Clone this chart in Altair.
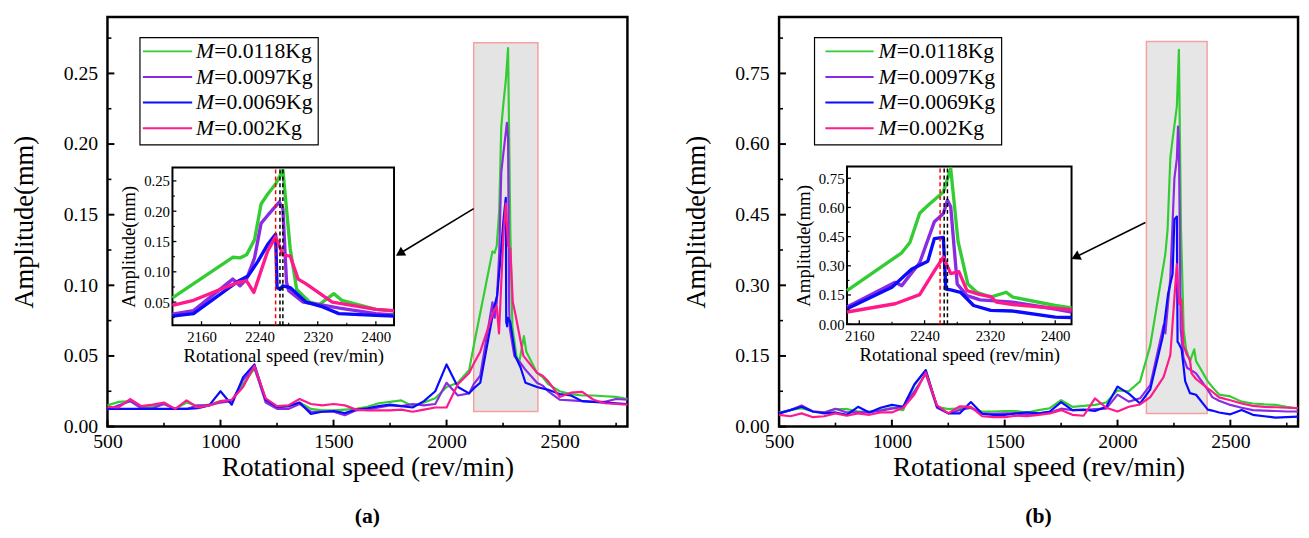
import altair as alt
import pandas as pd

FONT = "Liberation Serif"

SERIES = ["M=0.0118Kg", "M=0.0097Kg", "M=0.0069Kg", "M=0.002Kg"]
MASS_TEXT = ["=0.0118Kg", "=0.0097Kg", "=0.0069Kg", "=0.002Kg"]
COLORS = ["#33cc33", "#8a2be2", "#0a0aff", "#ff1a8c"]

LOW_X = [500, 550, 600, 650, 700, 750, 800, 850, 900, 950, 1000, 1050, 1100, 1150, 1200,
         1250, 1300, 1350, 1400, 1450, 1500, 1550, 1600, 1650, 1700, 1750, 1800, 1850,
         1900, 1950, 2000, 2050, 2100]
TAIL_X = [2450, 2500, 2550, 2600, 2650, 2700, 2750, 2800]

# ---------------- panel (a) ----------------
A_GREEN_LOW = [.015, .0175, .018, .014, .0145, .016, .0125, .017, .0145, .0155, .018, .0185, .030, .041,
               .019, .0135, .0145, .017, .0125, .0115, .0115, .012, .0125, .014, .0165, .0175, .0185,
               .0145, .017, .020, .028, .031, .040]
A_GREEN_PK_X = [2120, 2203, 2213, 2222, 2233, 2242, 2251, 2262, 2272, 2282, 2291, 2309, 2322, 2342, 2353, 2400, 2425]
A_GREEN_PK_Y = [.057, .124, .123, .128, .153, .212, .228, .245, .268, .139, .071, .050, .046, .064, .053, .038, .035]
A_GREEN_TAIL = [.030, .025, .023, .022, .022, .0215, .021, .0195]

A_PURPLE_LOW = [.012, .015, .018, .013, .013, .016, .0125, .0125, .015, .015, .017, .018, .033, .042,
                .017, .0125, .0125, .016, .0105, .0105, .0105, .008, .0115, .012, .0135, .015, .0145,
                .016, .015, .016, .031, .022, .0235]
A_PURPLE_PK_X = [2120, 2149, 2203, 2213, 2222, 2233, 2242, 2251, 2267, 2272, 2277, 2280, 2300, 2327, 2350, 2400, 2425]
A_PURPLE_PK_Y = [.030, .036, .088, .077, .088, .123, .180, .193, .215, .204, .083, .069, .050, .045, .040, .031, .029]
A_PURPLE_TAIL = [.025, .019, .0185, .018, .0175, .0175, .0195, .019]

A_BLUE_LOW = [.0125, .0125, .0125, .0125, .0125, .0125, .0125, .0125, .013, .015, .025, .0155, .035, .044,
              .019, .014, .0145, .017, .009, .0105, .011, .0095, .012, .013, .0145, .0155, .0145,
              .0135, .018, .025, .044, .028, .0235]
A_BLUE_PK_X = [2120, 2149, 2211, 2224, 2238, 2251, 2262, 2264, 2268, 2272, 2282, 2304, 2327, 2349, 2400, 2425]
A_BLUE_PK_Y = [.027, .031, .085, .093, .118, .145, .162, .074, .071, .077, .074, .050, .042, .031, .028, .027]
A_BLUE_TAIL = [.026, .023, .022, .018, .0175, .017, .0165, .016]

A_PINK_LOW = [.014, .0135, .0195, .0145, .0155, .017, .0125, .0185, .0135, .015, .018, .019, .028, .043,
              .020, .0145, .015, .0195, .016, .015, .016, .015, .012, .0115, .0115, .0115, .012,
              .0105, .012, .0135, .0135, .030, .038]
A_PINK_PK_X = [2120, 2149, 2211, 2222, 2232, 2251, 2262, 2272, 2282, 2293, 2304, 2340, 2400, 2425]
A_PINK_PK_Y = [.0445, .053, .083, .085, .066, .134, .158, .128, .126, .088, .080, .050, .038, .036]
A_PINK_TAIL = [.032, .021, .024, .0246, .019, .0165, .016, .0155]

# ---------------- panel (b) ----------------
B_GREEN_LOW = [.030, .035, .039, .032, .030, .037, .037, .032, .032, .035, .040, .035, .088, .120,
               .042, .037, .039, .039, .032, .032, .033, .033, .030, .035, .039, .056, .042, .044,
               .046, .051, .077, .075, .096]
B_GREEN_PK_X = [2145, 2212, 2222, 2234, 2244, 2263, 2272, 2281, 2293, 2304, 2321, 2340, 2348, 2400, 2420]
B_GREEN_PK_Y = [.172, .367, .42, .57, .61, .68, .80, .426, .206, .164, .139, .164, .139, .096, .084]
B_GREEN_TAIL = [.068, .064, .053, .049, .047, .046, .042, .039]

B_PURPLE_LOW = [.028, .035, .045, .032, .030, .038, .030, .030, .030, .034, .038, .042, .075, .112,
                .040, .028, .035, .040, .028, .027, .028, .028, .025, .028, .030, .038, .035, .035,
                .037, .038, .068, .053, .060]
B_PURPLE_PK_X = [2145, 2204, 2212, 2234, 2252, 2263, 2268, 2272, 2280, 2292, 2308, 2348, 2400, 2420]
B_PURPLE_PK_Y = [.088, .215, .198, .316, .527, .569, .637, .603, .206, .147, .125, .113, .078, .0625]
B_PURPLE_TAIL = [.055, .046, .040, .035, .034, .033, .032, .032]

B_BLUE_LOW = [.028, .035, .042, .032, .028, .030, .025, .042, .030, .040, .046, .042, .090, .120,
              .042, .028, .028, .052, .027, .025, .025, .028, .030, .028, .032, .052, .035, .036,
              .033, .042, .085, .070, .049]
B_BLUE_PK_X = [2145, 2200, 2224, 2244, 2252, 2263, 2266, 2272, 2284, 2300, 2321, 2348, 2400, 2420]
B_BLUE_PK_Y = [.079, .19, .282, .324, .44, .446, .18, .176, .164, .096, .071, .0675, .036, .034]
B_BLUE_TAIL = [.030, .026, .035, .025, .022, .019, .020, .021]

B_PINK_LOW = [.025, .022, .028, .020, .022, .028, .023, .028, .025, .030, .030, .040, .068, .115,
              .045, .028, .043, .042, .022, .020, .020, .023, .022, .025, .028, .035, .025, .023,
              .060, .040, .032, .042, .047]
B_PINK_PK_X = [2145, 2204, 2234, 2252, 2263, 2272, 2282, 2292, 2308, 2321, 2328, 2348, 2400, 2420]
B_PINK_PK_Y = [.0625, .105, .152, .274, .345, .26, .27, .172, .152, .142, .113, .101, .081, .074]
B_PINK_TAIL = [.062, .056, .049, .044, .042, .041, .040, .039]

# axes ticks
X_LABELS = [500, 1000, 1500, 2000, 2500]
X_MINOR = [750, 1250, 1750, 2250, 2750]
A_Y_LABELS = [0.00, 0.05, 0.10, 0.15, 0.20, 0.25]
A_Y_MINOR = [0.025, 0.075, 0.125, 0.175, 0.225, 0.275]
B_Y_LABELS = [0.00, 0.15, 0.30, 0.45, 0.60, 0.75]
B_Y_MINOR = [0.075, 0.225, 0.375, 0.525, 0.675, 0.825]
INSET_X_LABELS = [2160, 2240, 2320, 2400]
INSET_X_MINOR = [2200, 2280, 2360]
A_INSET_Y_LABELS = [0.05, 0.10, 0.15, 0.20, 0.25]
A_INSET_Y_MINOR = [0.025, 0.075, 0.125, 0.175, 0.225]
B_INSET_Y_LABELS = [0.00, 0.15, 0.30, 0.45, 0.60, 0.75]
B_INSET_Y_MINOR = [0.075, 0.225, 0.375, 0.525, 0.675]

# annotations
A_BOX = [2120, 2404, 0.0107, 0.2717]
B_BOX = [2128, 2397, 0.028, 0.818]
A_ARROW_X = [2120, 1793]
A_ARROW_Y = [0.1543, 0.1225]
B_ARROW_X = [2123.5, 1814]
B_ARROW_Y = [0.4335, 0.360]
A_RED_LINE = [2262]
A_BLACK_LINES = [2268, 2272]
B_RED_LINE = [2259]
B_BLACK_LINES = [2264, 2268]


def make_df(parts):
    frames = []
    for name, low, pkx, pky, tail in parts:
        frames.append(pd.DataFrame({"x": LOW_X + pkx + TAIL_X, "y": low + pky + tail, "series": name}))
    return pd.concat(frames, ignore_index=True)


COL = alt.Color("series:N", scale=alt.Scale(domain=SERIES, range=COLORS), legend=None)


def tick_rules(X, Y, xvals, yvals, x0, ybase, size, width):
    """Inward ticks drawn as rules positioned through the scales."""
    tx = alt.Chart(pd.DataFrame({"x": xvals})).mark_rule(color="black", strokeWidth=width).encode(
        x=X(), y=alt.value(ybase), y2=alt.value(ybase - size))
    ty = alt.Chart(pd.DataFrame({"y": yvals})).mark_rule(color="black", strokeWidth=width).encode(
        y=Y(), x=alt.value(x0), x2=alt.value(x0 + size))
    return [tx, ty]


def build_panel(P):
    W, H = P["W"], P["H"]
    df = make_df(P["series"])
    sx = alt.Scale(domain=P["xdom"], nice=False, zero=False)
    sy = alt.Scale(domain=P["ydom"], nice=False, zero=False)
    x_axis = alt.Axis(orient="bottom", values=X_LABELS, format="d", ticks=False, domain=False, grid=False,
                      labelFont=FONT, labelFontSize=20, labelPadding=5, labelColor="black",
                      labelFlush=False, labelOverlap=False,
                      title="Rotational speed (rev/min)", titleFont=FONT, titleFontSize=27.7,
                      titleFontWeight="normal", titlePadding=3, titleColor="black")
    y_axis = alt.Axis(orient="left", values=P["ylab"], format=".2f", ticks=False, domain=False, grid=False,
                      labelFont=FONT, labelFontSize=20, labelPadding=10, labelColor="black",
                      labelFlush=False, labelOverlap=False,
                      title="Amplitude(mm)", titleFont=FONT, titleFontSize=27, titleFontWeight="normal",
                      titlePadding=25, titleColor="black")
    X = lambda f="x:Q": alt.X(f, scale=sx, axis=x_axis)
    Y = lambda f="y:Q": alt.Y(f, scale=sy, axis=y_axis)

    b = P["box"]
    box = alt.Chart(pd.DataFrame({"x": [b[0]], "x2": [b[1]], "y": [b[2]], "y2": [b[3]]})).mark_rect(
        fill=P["boxfill"], stroke="#f5a0a0", strokeWidth=1.5).encode(x=X(), x2="x2:Q", y=Y(), y2="y2:Q")
    lines = alt.Chart(df).mark_line(strokeWidth=2.2, strokeJoin="round").encode(x=X(), y=Y(), color=COL)
    arrow = alt.Chart(pd.DataFrame({"x": P["arrow_x"], "y": P["arrow_y"]})).mark_line(
        color="black", strokeWidth=1.6).encode(x=X(), y=Y())
    head = alt.Chart(pd.DataFrame({"x": [P["arrow_x"][1]], "y": [P["arrow_y"][1]]})).mark_point(
        shape="triangle-up", filled=True, color="black", opacity=1, size=110, angle=P["angle"]).encode(x=X(), y=Y())
    ticks = (tick_rules(X, Y, X_LABELS, P["ylab"], 0, H, 7, 2)
             + tick_rules(X, Y, X_MINOR, P["yminor"], 0, H, 4, 1.6))
    main = alt.layer(box, lines, arrow, head, *ticks)

    # legend
    L = P["leg"]
    leg_df = pd.DataFrame({"series": SERIES, "mass": MASS_TEXT, "m": ["M"] * 4, "row": [0, 1, 2, 3]})
    ly = alt.Y("row:Q", scale=alt.Scale(domain=[0, 3], range=L["rows"], nice=False, zero=False), axis=None)
    lframe = alt.Chart(pd.DataFrame({"k": [0]})).mark_rect(fill="white", stroke="black", strokeWidth=1.2).encode(
        x=alt.value(L["x0"]), x2=alt.value(L["x1"]), y=alt.value(L["y0"]), y2=alt.value(L["y1"]))
    lrule = alt.Chart(leg_df).mark_rule(strokeWidth=2).encode(
        x=alt.value(L["lx0"]), x2=alt.value(L["lx1"]), y=ly, color=COL)
    ltxt1 = alt.Chart(leg_df).mark_text(align="left", baseline="middle", font=FONT, fontSize=22,
                                         fontStyle="italic", color="black").encode(
        x=alt.value(L["tx"]), y=ly, text="m:N")
    ltxt2 = alt.Chart(leg_df).mark_text(align="left", baseline="middle", font=FONT, fontSize=22,
                                         color="black").encode(
        x=alt.value(L["tx2"]), y=ly, text="mass:N")
    legend = alt.layer(lframe, lrule, ltxt1, ltxt2)

    # inset
    I = P["inset"]
    six = alt.Scale(domain=I["xdom"], range=I["xr"], nice=False, zero=False)
    siy = alt.Scale(domain=I["ydom"], range=I["yr"], nice=False, zero=False)
    ix_axis = alt.Axis(orient="bottom", offset=I["yr"][0] - H, values=INSET_X_LABELS, format="d", ticks=False,
                       domain=False, grid=False, labelFont=FONT, labelFontSize=15, labelPadding=5,
                       labelColor="black", labelFlush=False, labelOverlap=False,
                       title="Rotational speed (rev/min)", titleFont=FONT, titleFontSize=19,
                       titleFontWeight="normal", titlePadding=2, titleColor="black")
    iy_axis = alt.Axis(orient="left", offset=-I["xr"][0], values=I["ylab"], format=".2f", ticks=False,
                       domain=False, grid=False, labelFont=FONT, labelFontSize=15, labelPadding=3,
                       labelColor="black", labelFlush=False, labelOverlap=False,
                       title="Amplitude(mm)", titleFont=FONT, titleFontSize=19,
                       titleFontWeight="normal", titlePadding=5, titleColor="black")
    IX = lambda f="x:Q": alt.X(f, scale=six, axis=ix_axis)
    IY = lambda f="y:Q": alt.Y(f, scale=siy, axis=iy_axis)
    ibg = alt.Chart(pd.DataFrame({"x": [I["xdom"][0]], "x2": [I["xdom"][1]], "y": [I["ydom"][0]],
                                  "y2": [I["ydom"][1]]})).mark_rect(fill="white", stroke="black",
                                                                    strokeWidth=2).encode(
        x=IX(), x2="x2:Q", y=IY(), y2="y2:Q")
    ilines = alt.Chart(df).transform_filter(
        alt.FieldRangePredicate(field="x", range=I["xdom"])).mark_line(strokeWidth=3.4, strokeJoin="round").encode(
        x=IX(), y=IY(), color=COL)
    n_r, n_b = len(I["red"]), len(I["black"])
    ired = alt.Chart(pd.DataFrame({"x": I["red"], "y": [I["ydom"][0]] * n_r, "y2": [I["ydom"][1]] * n_r})).mark_rule(
        color="#ff0000", strokeWidth=1.5, strokeDash=[4, 3]).encode(x=IX(), y=IY(), y2="y2:Q")
    iblack = alt.Chart(pd.DataFrame({"x": I["black"], "y": [I["ydom"][0]] * n_b, "y2": [I["ydom"][1]] * n_b})).mark_rule(
        color="black", strokeWidth=1.5, strokeDash=[4, 3]).encode(x=IX(), y=IY(), y2="y2:Q")
    iticks = (tick_rules(IX, IY, INSET_X_LABELS, I["ylab"], I["xr"][0], I["yr"][0], 4, 1.3)
              + tick_rules(IX, IY, INSET_X_MINOR, I["yminor"], I["xr"][0], I["yr"][0], 2.5, 1.1))
    inset = alt.layer(ibg, ilines, ired, iblack, *iticks)

    return alt.layer(main, legend, inset).resolve_scale(
        x="independent", y="independent").properties(
        width=W, height=H,
        title=alt.TitleParams(text=P["title"], orient="bottom", anchor="middle", frame="group", font=FONT,
                              fontSize=22, fontWeight="bold", offset=25, color="black"))


PA = {
    "W": 528, "H": 416, "xdom": [500, 2800], "ydom": [0, 0.29], "ylab": A_Y_LABELS, "yminor": A_Y_MINOR,
    "box": A_BOX, "boxfill": "#e4e4e4", "arrow_x": A_ARROW_X, "arrow_y": A_ARROW_Y, "angle": 238.6,
    "series": [(SERIES[0], A_GREEN_LOW, A_GREEN_PK_X, A_GREEN_PK_Y, A_GREEN_TAIL),
               (SERIES[1], A_PURPLE_LOW, A_PURPLE_PK_X, A_PURPLE_PK_Y, A_PURPLE_TAIL),
               (SERIES[2], A_BLUE_LOW, A_BLUE_PK_X, A_BLUE_PK_Y, A_BLUE_TAIL),
               (SERIES[3], A_PINK_LOW, A_PINK_PK_X, A_PINK_PK_Y, A_PINK_TAIL)],
    "leg": {"x0": 33, "x1": 214, "y0": 21, "y1": 130, "rows": [35, 113], "lx0": 36, "lx1": 86,
            "tx": 90, "tx2": 108.5},
    "inset": {"xdom": [2120, 2425], "xr": [66, 291], "ydom": [0.012, 0.272], "yr": [313, 153],
              "ylab": A_INSET_Y_LABELS, "yminor": A_INSET_Y_MINOR, "red": A_RED_LINE, "black": A_BLACK_LINES},
    "title": "(a)",
}
PB = {
    "W": 527, "H": 416, "xdom": [500, 2800], "ydom": [0, 0.87], "ylab": B_Y_LABELS, "yminor": B_Y_MINOR,
    "box": B_BOX, "boxfill": "#e6e6e6", "arrow_x": B_ARROW_X, "arrow_y": B_ARROW_Y, "angle": 243.7,
    "series": [(SERIES[0], B_GREEN_LOW, B_GREEN_PK_X, B_GREEN_PK_Y, B_GREEN_TAIL),
               (SERIES[1], B_PURPLE_LOW, B_PURPLE_PK_X, B_PURPLE_PK_Y, B_PURPLE_TAIL),
               (SERIES[2], B_BLUE_LOW, B_BLUE_PK_X, B_BLUE_PK_Y, B_BLUE_TAIL),
               (SERIES[3], B_PINK_LOW, B_PINK_PK_X, B_PINK_PK_Y, B_PINK_TAIL)],
    "leg": {"x0": 36, "x1": 226, "y0": 21, "y1": 130, "rows": [35, 113], "lx0": 47, "lx1": 96,
            "tx": 101, "tx2": 119.5},
    "inset": {"xdom": [2145, 2420], "xr": [69, 297], "ydom": [0, 0.81], "yr": [312, 152],
              "ylab": B_INSET_Y_LABELS, "yminor": B_INSET_Y_MINOR, "red": B_RED_LINE, "black": B_BLACK_LINES},
    "title": "(b)",
}

chart = alt.hconcat(build_panel(PA), build_panel(PB), spacing=51).properties(
    padding={"left": 1, "top": 3, "right": 0, "bottom": 0}
).configure(font=FONT).configure_view(stroke="black", strokeWidth=2.5)

chart.save("out.html", embed_options={"renderer": "svg", "actions": False})
